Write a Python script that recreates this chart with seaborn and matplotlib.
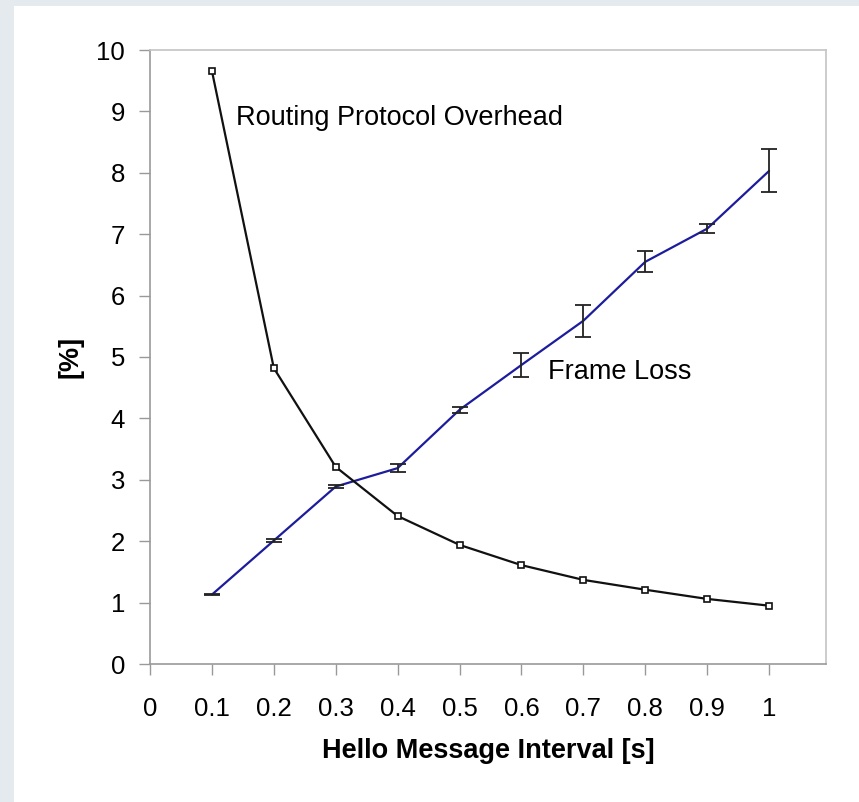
import matplotlib
matplotlib.use("Agg")
import matplotlib.pyplot as plt
from matplotlib.patches import Rectangle
import numpy as np
import pandas as pd
import seaborn as sns

interval = [0.1, 0.2, 0.3, 0.4, 0.5, 0.6, 0.7, 0.8, 0.9, 1.0]
routing_overhead = [9.66, 4.82, 3.21, 2.41, 1.94, 1.61, 1.37, 1.21, 1.06, 0.95]
frame_loss = [1.13, 2.01, 2.89, 3.19, 4.14, 4.87, 5.59, 6.55, 7.09, 8.03]
frame_loss_err = [0.01, 0.02, 0.03, 0.06, 0.05, 0.20, 0.26, 0.17, 0.07, 0.35]
x_ticks = [0, 0.1, 0.2, 0.3, 0.4, 0.5, 0.6, 0.7, 0.8, 0.9, 1]
x_tick_labels = ["0", "0.1", "0.2", "0.3", "0.4", "0.5", "0.6", "0.7", "0.8", "0.9", "1"]
y_ticks = list(range(0, 11))

sns.set_theme(style="white")
plt.rcParams['font.family'] = ['Liberation Sans', 'DejaVu Sans']
plt.rcParams['text.color'] = 'black'
plt.rcParams['axes.labelcolor'] = 'black'

fig = plt.figure(figsize=(8.59, 8.02), dpi=100)
fig.patch.set_facecolor('#e4eaee')
card = Rectangle((14 / 859, 0), 1 - 14 / 859, (802 - 6) / 802,
                 transform=fig.transFigure, facecolor='white',
                 edgecolor='none', zorder=-10)
fig.patches.append(card)
ax = fig.add_axes([150 / 859, (802 - 664) / 802, 676 / 859, 614 / 802])
ax.set_zorder(5)
ax.set_facecolor('white')

df = pd.DataFrame({"interval": interval, "overhead": routing_overhead, "loss": frame_loss})

ax.errorbar(interval, frame_loss, yerr=frame_loss_err, fmt='none', ecolor='#222222',
            elinewidth=1.3, capsize=6, capthick=1.3, zorder=3)
sns.lineplot(data=df, x="interval", y="loss", ax=ax, color='#1c1c9c', linewidth=1.6, zorder=2)
sns.lineplot(data=df, x="interval", y="overhead", ax=ax, color='#111111', linewidth=1.6,
             marker='s', markersize=5, markerfacecolor='white', markeredgecolor='#111111',
             markeredgewidth=1.2, zorder=4)

ax.set_xlim(0, 1.092)
ax.set_ylim(0, 10)
ax.set_xticks(x_ticks)
ax.set_xticklabels(x_tick_labels)
ax.set_yticks(y_ticks)

ax.tick_params(axis='both', which='major', direction='out', length=8, width=1,
               color='#999999', labelsize=18.5, labelcolor='black')
ax.tick_params(axis='x', pad=16, bottom=True)
ax.tick_params(axis='y', pad=10, left=True)

for side in ['top', 'right']:
    ax.spines[side].set_color('#c4c4c4')
    ax.spines[side].set_linewidth(1.2)
for side in ['left', 'bottom']:
    ax.spines[side].set_color('#999999')
    ax.spines[side].set_linewidth(1.2)

ax.set_xlabel("Hello Message Interval [s]", fontsize=19.5, fontweight='bold',
              labelpad=12, color='black')
ax.set_ylabel("[%]", fontsize=19.5, fontweight='bold', labelpad=9, color='black')

ax.text(0.139, 8.89, "Routing Protocol Overhead", fontsize=19.5, ha='left',
        va='center', color='black')
ax.text(0.643, 4.76, "Frame Loss", fontsize=19.5, ha='left', va='center', color='black')

fig.savefig("out.png", dpi=100, facecolor=fig.get_facecolor())
